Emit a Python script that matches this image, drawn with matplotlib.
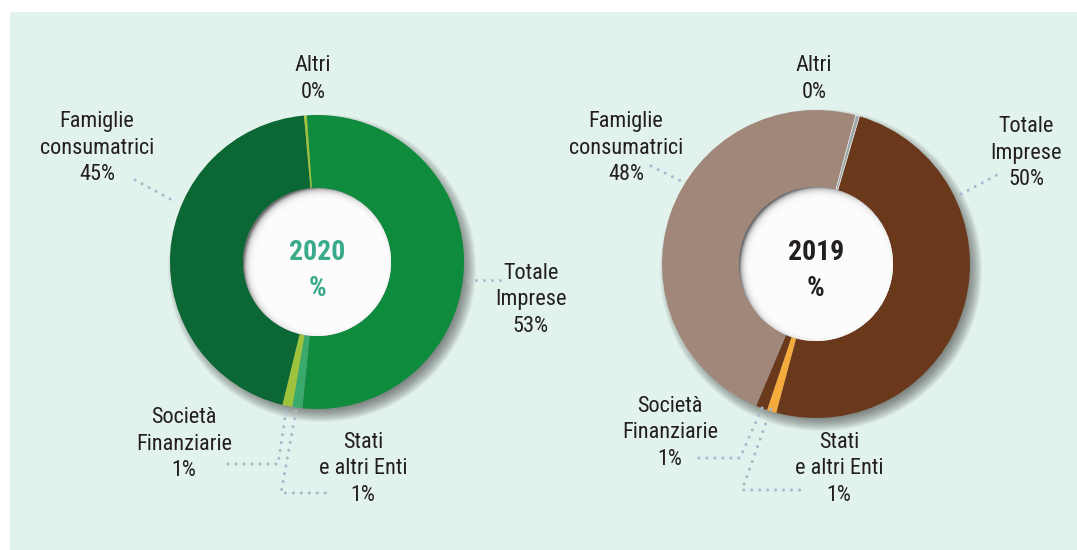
import matplotlib
matplotlib.use("Agg")
import matplotlib.pyplot as plt
from matplotlib import font_manager as fm
from matplotlib.patches import Circle, Rectangle

# dati (quote % stimate dal grafico)
categories = ["Totale\nImprese", "Stati\ne altri Enti", "Società\nFinanziarie",
              "Famiglie\nconsumatrici", "Altri"]
shares_2020 = [52.7, 1.1, 1.1, 44.8, 0.3]
shares_2019 = [49.6, 1.0, 1.2, 47.8, 0.4]
years = ["2020", "2019"]

colors_2020 = ["#0e8b3c", "#3aa96c", "#9cc33b", "#0b6734", "#9cc33b"]
colors_2019 = ["#6a391b", "#f5ab3c", "#6a391b", "#a0877a", "#9ea8a8"]

W, H = 1077, 550
TXT = "#231f20"
DOTS = "#a9b9cc"

# font stretto tipo Helvetica Condensed, se presente
fonts = {}
for f in fm.fontManager.ttflist:
    fonts.setdefault(f.name, []).append(f)
cands = ["Roboto Condensed", "Liberation Sans Narrow", "Arial Narrow",
         "Archivo Narrow", "PT Sans Narrow", "Pragati Narrow"]
FONT = ["DejaVu Sans"]
FONT_B = ["DejaVu Sans"]
for c in cands:
    if c in fonts:
        FONT = [c, "DejaVu Sans"]
        break
for c in cands:
    if c in fonts and any(isinstance(f.weight, int) and f.weight >= 600
                          for f in fonts[c]):
        FONT_B = [c, "DejaVu Sans"]
        break


def up(y):
    # coordinate immagine -> asse con y verso l'alto
    return H - y


fig = plt.figure(figsize=(W / 100, H / 100), dpi=100)
ax = fig.add_axes([0, 0, 1, 1])

# layout: centro, raggio esterno, raggio interno, angolo iniziale, colore anno
charts = [
    dict(shares=shares_2020, colors=colors_2020, year=years[0], c=(317, 262),
         R=147, r=74, start=94, ycol="#3aaa8a",
         labels=[(531, 300), (363, 469), (184, 444), (97, 148), (313, 79)],
         leaders=[[(468, 280), (503, 280)],
                  [(296, 411), (281, 493), (330, 493)],
                  [(286, 411), (278, 464), (222, 464)],
                  [(135, 180), (172, 200)]]),
    dict(shares=shares_2019, colors=colors_2019, year=years[1], c=(816, 264),
         R=154, r=77, start=73.6, ycol="#231f20",
         labels=[(1026, 153), (839, 469), (670, 433), (626, 148), (814, 79)],
         leaders=[[(961, 194), (999, 174)],
                  [(771, 409), (742, 490), (807, 490)],
                  [(762, 408), (740, 458), (696, 458)],
                  [(651, 166), (681, 181)]]),
]

# pannello di sfondo
ax.add_patch(Rectangle((10, 0), W - 10, H - 12, facecolor="#e2f2ec",
                       edgecolor="none", zorder=0))

for ch in charts:
    cx, cy = ch["c"][0], up(ch["c"][1])
    R, r = ch["R"], ch["r"]

    # ombra esterna sfumata
    for i in range(14):
        ax.add_patch(Circle((cx + 5, cy - 6), R - 6 + i * 1.0,
                            facecolor="#3a3a3a", edgecolor="none",
                            alpha=0.055, zorder=1))

    wedges, _ = ax.pie(ch["shares"], colors=ch["colors"], startangle=ch["start"],
                       counterclock=False, radius=R, center=(cx, cy),
                       wedgeprops=dict(width=R - r, linewidth=0))
    for w in wedges:
        w.set_zorder(2)
    if ch["year"] == "2019":
        wedges[-1].set_edgecolor("#f4f4f4")
        wedges[-1].set_linewidth(0.5)

    # foro centrale con ombra interna
    hole = Circle((cx, cy), r, facecolor="#6e6e6e", edgecolor="none", zorder=3)
    ax.add_patch(hole)
    for i in range(16):
        c = Circle((cx + 4, cy - 3), r - 12 + i * 1.0, facecolor="white",
                   edgecolor="none", alpha=0.3, zorder=3)
        ax.add_patch(c)
        c.set_clip_path(hole)

    ax.text(cx, up(253), ch["year"], ha="center", va="center", fontsize=20,
            fontweight="bold", color=ch["ycol"], family=FONT_B, zorder=5)
    ax.text(cx, up(289), "%", ha="center", va="center", fontsize=20,
            fontweight="bold", color=ch["ycol"], family=FONT_B, zorder=5)

    # etichette
    for name, val, (lx, ly) in zip(categories, ch["shares"], ch["labels"]):
        ax.text(lx, up(ly), f"{name}\n{round(val):.0f}%", ha="center",
                va="center", fontsize=16, color=TXT, family=FONT,
                linespacing=1.36, zorder=5)

    # linee guida puntinate
    for pts in ch["leaders"]:
        xs = [p[0] for p in pts]
        ys = [up(p[1]) for p in pts]
        ax.plot(xs, ys, color=DOTS, linewidth=2.2,
                linestyle=(0, (0.01, 2.6)), dash_capstyle="round", zorder=4)

ax.set_xlim(0, W)
ax.set_ylim(0, H)
ax.set_aspect("equal")
ax.axis("off")

fig.savefig("out.png", dpi=100, facecolor="white")
